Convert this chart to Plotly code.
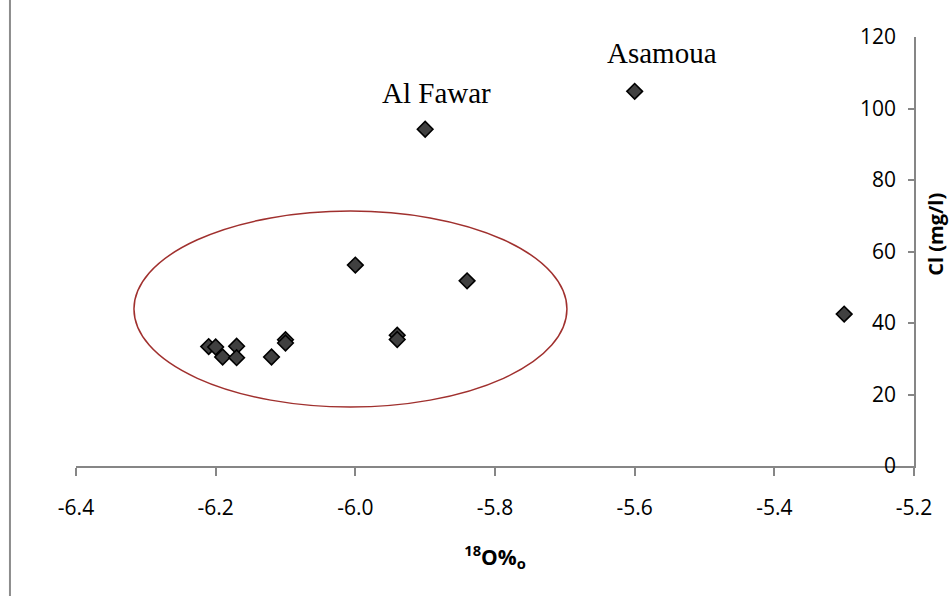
import plotly.graph_objects as go

# delta 18O (per mil) and chloride (mg/l) for each spring / well
o18 = [-5.60, -5.90, -5.30, -6.00, -5.84, -5.94, -5.94, -6.10, -6.10,
       -6.12, -6.21, -6.20, -6.19, -6.17, -6.17]
cl = [104.8, 94.2, 42.5, 56.2, 51.8, 36.6, 35.4, 35.3, 34.4,
      30.5, 33.4, 33.3, 30.5, 33.5, 30.3]

# named sites: (x, y, label, pixel offset of the label from its point)
site_labels = [
    (-5.90, 94.2, "Al Fawar", 11, 36),
    (-5.60, 104.8, "Asamoua", 27, 38),
]

# group outline drawn around the clustered samples (data units)
cluster_box = dict(x0=-6.317, x1=-5.697, y0=16.5, y1=71.3)

x_ticks = [-6.4, -6.2, -6.0, -5.8, -5.6, -5.4, -5.2]
y_ticks = [0, 20, 40, 60, 80, 100, 120]

axis_grey = "#868686"
sans = "Open Sans, Liberation Sans, sans-serif"
tick_font = dict(family=sans, size=21, color="#000000")

fig = go.Figure()
fig.add_trace(go.Scatter(
    x=o18, y=cl, mode="markers",
    marker=dict(symbol="diamond", size=12, color="#404040",
                line=dict(color="#000000", width=1.6)),
    hoverinfo="x+y", showlegend=False,
))
# empty trace so the label-only axis is laid out
fig.add_trace(go.Scatter(x=[], y=[], yaxis="y2", showlegend=False, hoverinfo="skip"))

for x, y, text, dx, dy in site_labels:
    fig.add_annotation(x=x, y=y, xref="x", yref="y", text=text, showarrow=False,
                       xshift=dx, yshift=dy,
                       font=dict(family="Liberation Serif, Times New Roman, serif",
                                 size=29, color="#000000"))

# y-axis title, placed beside the right-hand axis
fig.add_annotation(x=1.0255, y=0.54, xref="paper", yref="paper", text="<b>Cl (mg/l)</b>",
                   textangle=-90, showarrow=False, xanchor="center", yanchor="middle",
                   font=dict(family=sans, size=20, color="#000000"))

fig.add_shape(type="circle", xref="x", yref="y", **cluster_box,
              line=dict(color="#a0302e", width=1.5))

# outer frame edge on the left side
fig.add_shape(type="line", xref="paper", yref="paper", x0=-0.0788, x1=-0.0788,
              y0=-0.31, y1=1.09, line=dict(color="#8c8c8c", width=2))

fig.update_layout(
    width=951, height=596,
    margin=dict(l=76, r=37, t=37, b=130),
    paper_bgcolor="white", plot_bgcolor="white",
    xaxis=dict(
        range=[-6.4, -5.2], tickvals=x_ticks, ticktext=[f"{v:.1f}" for v in x_ticks],
        showgrid=False, zeroline=False, showline=True, linecolor=axis_grey, linewidth=1.5,
        ticks="outside", ticklen=8, tickcolor=axis_grey, tickwidth=1.5,
        tickfont=tick_font, ticklabelstandoff=14,
        title=dict(text="<b><sup>18</sup>O%<sub>o</sub></b>", standoff=30,
                   font=dict(family=sans, size=21, color="#000000")),
    ),
    # axis line and ticks on the right edge
    yaxis=dict(
        range=[0, 120], tickvals=y_ticks, side="right",
        showgrid=False, zeroline=False, showline=True, linecolor=axis_grey, linewidth=1.5,
        ticks="inside", ticklen=6, tickcolor=axis_grey, tickwidth=1.5,
        showticklabels=False,
    ),
    # tick labels sitting just left of that axis line
    yaxis2=dict(
        range=[0, 120], tickvals=y_ticks, overlaying="y", anchor="free", position=1.0,
        side="left", showgrid=False, zeroline=False, showline=False, ticks="",
        tickfont=tick_font, ticklabelstandoff=18,
    ),
)

fig.write_html("out.html")
